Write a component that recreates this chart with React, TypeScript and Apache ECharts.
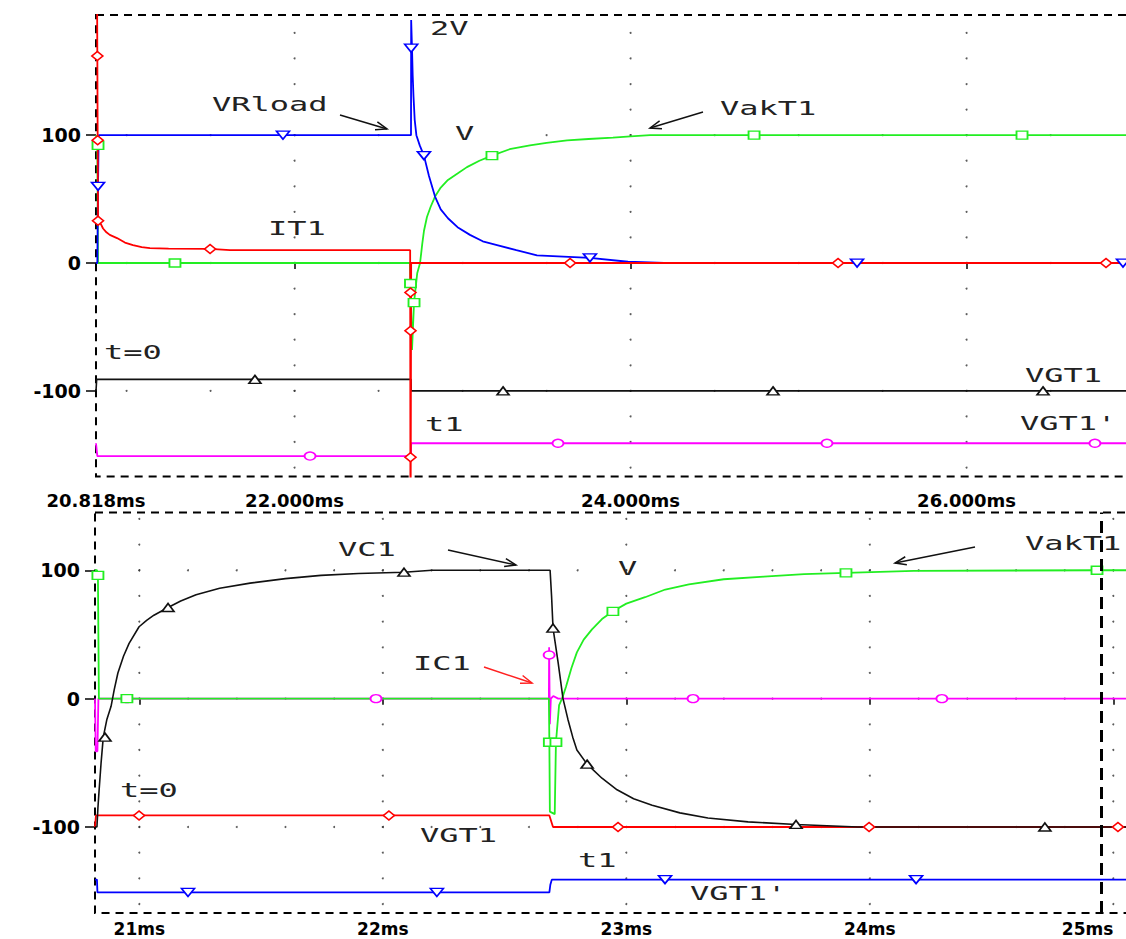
import React, { useEffect, useRef } from "react";
import * as echarts from "echarts";

// ---------- axis ranges / ticks ----------
const topXLabels = [20.818, 22, 24, 26];
const topXTicks = [22, 24, 26];
const botXLabels = [21, 22, 23, 24, 25];
const yLabels = [-100, 0, 100];

// ---------- TOP PANEL DATA (time ms, value) ----------
const topVRload = [
  [20.818, 0], [20.826, 0], [20.830, 60], [20.834, 100], [22.693, 100], [22.694, 190],
  [22.699, 168], [22.703, 147], [22.708, 130], [22.715, 112], [22.725, 100], [22.745, 92],
  [22.770, 84], [22.800, 68], [22.836, 52], [22.870, 42], [22.913, 35], [22.970, 28],
  [23.044, 22], [23.120, 17], [23.205, 14], [23.320, 10], [23.443, 6], [23.600, 5],
  [23.758, 4], [23.985, 1], [24.200, 0], [27, 0],
];
const topVRloadMarks = [[20.830, 60], [21.931, 100], [22.694, 168], [22.770, 84], [23.758, 4], [25.348, 0], [26.931, 0]];

const topIT1 = [
  [20.818, 400], [20.826, 162], [20.828, 96], [20.830, 37], [20.845, 31], [20.860, 27],
  [20.880, 24], [20.900, 22], [20.943, 19.5], [20.990, 16], [21.038, 14], [21.090, 12.5],
  [21.139, 11.7], [21.250, 11.2], [21.497, 11], [21.616, 10],
  [22.688, 10], [22.690, -250], [22.694, 0], [27, 0],
];
const topIT1Marks = [[20.826, 162], [20.828, 96], [20.830, 33], [21.497, 11], [22.690, -23], [22.690, -53], [22.690, -152], [23.640, 0], [25.235, 0], [26.830, 0]];

const topVakT1 = [
  [20.818, 100], [20.826, 92], [20.830, 0], [22.687, 0], [22.690, -16], [22.699, -68],
  [22.711, -31], [22.730, -8], [22.747, 0], [22.760, 15], [22.770, 25], [22.788, 36],
  [22.810, 44], [22.836, 52], [22.870, 59], [22.913, 65], [22.970, 70], [23.026, 75],
  [23.100, 80], [23.175, 84], [23.280, 89], [23.401, 92], [23.500, 94], [23.622, 96],
  [23.750, 97], [23.895, 98], [24.000, 99], [24.116, 100], [27, 100],
];
const topVakT1Marks = [[20.830, 92], [21.288, 0], [22.690, -16], [22.711, -31], [23.175, 84], [24.735, 100], [26.330, 100]];

const topVGT1 = [[20.818, -100], [20.822, -91], [22.693, -91], [22.694, -100], [27, -100]];
const topVGT1Marks = [[21.764, -91], [23.241, -100], [24.848, -100], [26.455, -100]];

const topVGT1p = [[20.818, -141], [20.822, -141], [20.826, -151], [22.693, -151], [22.694, -141], [27, -141]];
const topVGT1pMarks = [[22.092, -151], [23.568, -141], [25.169, -141], [26.764, -141]];

// ---------- BOTTOM PANEL DATA ----------
const botVC1 = [
  [20.818, -100], [20.826, -100], [20.830, -85], [20.835, -71], [20.843, -50], [20.852, -30],
  [20.867, -16], [20.884, -6], [20.897, 7], [20.912, 20], [20.935, 33], [20.958, 43],
  [20.999, 56], [21.030, 61], [21.060, 65], [21.118, 71], [21.170, 76], [21.233, 81],
  [21.330, 86], [21.455, 90], [21.600, 93.5], [21.746, 96], [21.900, 97.5], [22.087, 98.5],
  [22.202, 100], [22.687, 100], [22.693, 80], [22.699, 55], [22.720, 28], [22.740, 0],
  [22.760, -16], [22.780, -30], [22.797, -40], [22.839, -51], [22.900, -62], [22.962, -71],
  [23.030, -78], [23.106, -83], [23.220, -89], [23.335, -93], [23.500, -96], [23.697, -98],
  [23.951, -100], [25.2, -100],
];
const botVC1Marks = [[20.859, -30], [21.118, 71], [22.087, 98.5], [22.699, 55], [22.839, -51], [23.697, -98], [24.719, -100]];

const botVakT1 = [
  [20.818, 100], [20.826, 100], [20.830, 96], [20.834, 0], [22.682, 0], [22.684, -34],
  [22.686, -88], [22.706, -90], [22.711, -34], [22.724, -5], [22.736, 0], [22.752, 9],
  [22.775, 24], [22.797, 36], [22.825, 46], [22.859, 54], [22.900, 62], [22.945, 68],
  [23.000, 74], [23.077, 79], [23.160, 85], [23.257, 89], [23.400, 93], [23.565, 95],
  [23.730, 97], [23.902, 98], [24.181, 99.6], [24.933, 100], [25.2, 100],
];
const botVakT1Marks = [[20.830, 96], [20.949, 0], [22.684, -34], [22.711, -34], [22.945, 68], [23.902, 98], [24.933, 100]];

const botIC1 = [
  [20.818, 0], [20.821, -41], [20.828, -41], [20.832, 0], [22.682, 0], [22.683, 40],
  [22.686, -20], [22.690, 0], [22.700, 2], [22.720, 0], [25.2, 0],
];
const botIC1Marks = [[20.949, 0], [21.972, 0], [22.683, 34], [23.274, 0], [24.296, 0]];

const botVGT1 = [[20.818, -100], [20.822, -91], [22.684, -91], [22.699, -100], [25.2, -100]];
const botVGT1Marks = [[20.999, -91], [22.025, -91], [22.966, -100], [23.997, -100], [25.019, -100]];

const botVGT1p = [[20.818, -141], [20.826, -141], [20.828, -151], [22.684, -151], [22.688, -145], [22.694, -141], [25.2, -141]];
const botVGT1pMarks = [[21.200, -151], [22.222, -151], [23.159, -141], [24.190, -141]];

const cursorT = 24.945;

// ---------- colours ----------
const BLUE = "#0000ff";
const RED = "#ff0000";
const GREEN = "#22ee22";
const BLACK = "#111111";
const MAGENTA = "#ff00ff";

function lineS(name: string, data: number[][], color: string, gi: number, width = 1.8) {
  return {
    name, type: "line", xAxisIndex: gi, yAxisIndex: gi, data,
    showSymbol: false, symbol: "none", clip: true, z: 3,
    lineStyle: { color, width }, itemStyle: { color }, silent: true,
  };
}
function markS(name: string, data: number[][], color: string, gi: number, symbol: string, rotate = 0, size: number[] = [11, 8]) {
  return {
    name: name + "_m", type: "scatter", xAxisIndex: gi, yAxisIndex: gi, data,
    symbol, symbolRotate: rotate, symbolSize: size, clip: true, z: 4, silent: true,
    itemStyle: { color: "#ffffff", borderColor: color, borderWidth: 1.6, opacity: 1 },
  };
}

function gridDots(xs: number[], xmin: number, xmax: number, xstep: number, ys: number[], ymin: number, ymax: number, ystep: number) {
  const pts: number[][] = [];
  for (const x of xs) {
    for (let y = Math.ceil(ymin / ystep) * ystep; y <= ymax; y += ystep) pts.push([x, y]);
  }
  for (const y of ys) {
    for (let x = Math.ceil((xmin + 1e-9) / xstep) * xstep; x <= xmax; x += xstep) pts.push([+x.toFixed(3), y]);
  }
  return pts;
}

function arrow(x1: number, y1: number, x2: number, y2: number, color: string) {
  const a = Math.atan2(y2 - y1, x2 - x1);
  const L = 12, w = 0.35;
  const p1 = [x2 - L * Math.cos(a - w), y2 - L * Math.sin(a - w)];
  const p2 = [x2 - L * Math.cos(a + w), y2 - L * Math.sin(a + w)];
  return [
    { type: "line", shape: { x1, y1, x2, y2 }, style: { stroke: color, lineWidth: 1.5 }, silent: true },
    { type: "polyline", shape: { points: [p1, [x2, y2], p2] }, style: { stroke: color, fill: null, lineWidth: 1.5 }, silent: true },
  ];
}
function label(text: string, x: number, y: number, color = "#222") {
  return {
    type: "text", x, y, scaleX: 1.6, silent: true,
    style: { text, fill: color, font: '20px "DejaVu Sans Mono"', align: "left", verticalAlign: "middle" },
  };
}

export default function App() {
  const ref = useRef<HTMLDivElement>(null);
  useEffect(() => {
    if (!ref.current) return;
    const chart = echarts.init(ref.current, null, { renderer: "svg" });
    const axisLabelFont = { fontFamily: "DejaVu Sans", fontWeight: "bold", color: "#000" };
    const gridCommon = {
      show: true, borderColor: "#000", borderWidth: 2, borderType: [8, 6],
      backgroundColor: "transparent", outerBoundsMode: "none", containLabel: false,
    };
    const W = 1180;
    const topLeft = 96, topPx = 168;
    const topMax = 27;
    const botLeft = 95, botPx = 243.5;
    const botMax = 25.2;
    const option: any = {
      animation: false,
      backgroundColor: "#ffffff",
      grid: [
        { ...gridCommon, left: topLeft, top: 15, height: 461.5, right: W - (topLeft + (topMax - 20.818) * topPx) },
        { ...gridCommon, left: botLeft, top: 512.5, height: 400.5, right: W - (botLeft + (botMax - 20.818) * botPx) },
      ],
      xAxis: [
        {
          type: "value", gridIndex: 0, min: 20.818, max: topMax,
          axisLine: { show: false }, splitLine: { show: false },
          axisTick: { show: true, customValues: topXTicks, length: 6, lineStyle: { color: "#000", width: 1.5 } },
          axisLabel: { ...axisLabelFont, fontSize: 18, customValues: topXLabels, margin: 15, formatter: (v: number) => v.toFixed(3) + "ms" },
        },
        {
          type: "value", gridIndex: 1, min: 20.818, max: botMax,
          axisLine: { show: false }, splitLine: { show: false },
          axisTick: { show: true, customValues: botXLabels, length: 6, lineStyle: { color: "#000", width: 1.5 } },
          axisLabel: {
            ...axisLabelFont, fontSize: 17, customValues: botXLabels, margin: 7, alignMaxLabel: "right",
            formatter: (v: number) => Math.round(v) + "ms",
          },
        },
      ],
      yAxis: [
        {
          type: "value", gridIndex: 0, min: -167, max: 194,
          axisLine: { show: false }, splitLine: { show: false },
          axisTick: { show: true, customValues: yLabels, length: 10, lineStyle: { color: "#000", width: 1.5 } },
          axisLabel: { ...axisLabelFont, fontSize: 19, customValues: yLabels, margin: 15, formatter: (v: number) => String(v) },
        },
        {
          type: "value", gridIndex: 1, min: -167, max: 145,
          axisLine: { show: false }, splitLine: { show: false },
          axisTick: { show: true, customValues: yLabels, length: 10, lineStyle: { color: "#000", width: 1.5 } },
          axisLabel: { ...axisLabelFont, fontSize: 19, customValues: yLabels, margin: 15, formatter: (v: number) => String(v) },
        },
      ],
      series: [
        {
          type: "scatter", xAxisIndex: 0, yAxisIndex: 0, silent: true, z: 1, symbolSize: 2,
          itemStyle: { color: "#333" },
          data: gridDots([22, 24, 26], 20.818, topMax, 0.5, [100, 0, -100], -167, 194, 20),
        },
        {
          type: "scatter", xAxisIndex: 1, yAxisIndex: 1, silent: true, z: 1, symbolSize: 2,
          itemStyle: { color: "#333" },
          data: gridDots([21, 22, 23, 24, 25], 20.818, botMax, 0.2, [100, 0, -100], -167, 145, 20),
        },
        // top
        lineS("VGT1", topVGT1, BLACK, 0, 1.6),
        lineS("VGT1'", topVGT1p, MAGENTA, 0),
        lineS("VakT1", topVakT1, GREEN, 0),
        lineS("VRload", topVRload, BLUE, 0),
        lineS("IT1", topIT1, RED, 0),
        markS("VGT1", topVGT1Marks, BLACK, 0, "triangle", 0, [12, 8]),
        markS("VGT1'", topVGT1pMarks, MAGENTA, 0, "circle", 0, [11, 8]),
        markS("VakT1", topVakT1Marks, GREEN, 0, "rect", 0, [11, 8]),
        markS("VRload", topVRloadMarks, BLUE, 0, "triangle", 180, [13, 8]),
        markS("IT1", topIT1Marks, RED, 0, "diamond", 0, [11, 9]),
        // bottom
        lineS("VGT1 ", botVGT1, RED, 1),
        lineS("VGT1' ", botVGT1p, BLUE, 1),
        {
          ...lineS("IC1", botIC1, MAGENTA, 1),
          markLine: {
            silent: true, symbol: "none", label: { show: false },
            lineStyle: { color: "#000", type: [12, 7], width: 3 },
            data: [{ xAxis: cursorT }],
          },
        },
        lineS("VakT1 ", botVakT1, GREEN, 1),
        lineS("VC1", botVC1, BLACK, 1, 1.6),
        markS("VGT1 ", botVGT1Marks, RED, 1, "diamond", 0, [11, 9]),
        markS("VGT1' ", botVGT1pMarks, BLUE, 1, "triangle", 180, [13, 8]),
        markS("IC1", botIC1Marks, MAGENTA, 1, "circle", 0, [11, 8]),
        markS("VakT1 ", botVakT1Marks, GREEN, 1, "rect", 0, [11, 8]),
        markS("VC1", botVC1Marks, BLACK, 1, "triangle", 0, [12, 8]),
      ],
      graphic: [
        label("2V", 430, 28),
        label("VRload", 212, 104),
        label("V", 455, 133),
        label("VakT1", 720, 108),
        label("IT1", 268, 228),
        label("t=0", 104, 352),
        label("t1", 425, 424),
        label("VGT1", 1025, 375),
        label("VGT1'", 1020, 423),
        label("VC1", 338, 549),
        label("VakT1", 1025, 543),
        label("V", 618, 568),
        label("IC1", 413, 663),
        label("t=0", 120, 790),
        label("VGT1", 420, 835),
        label("t1", 578, 860),
        label("VGT1'", 690, 893),
        ...arrow(340, 115, 387, 129, "#111"),
        ...arrow(703, 112, 650, 128, "#111"),
        ...arrow(448, 550, 516, 565, "#111"),
        ...arrow(975, 547, 895, 563, "#111"),
        ...arrow(484, 667, 532, 683, "#ff2020"),
      ],
    };
    chart.setOption(option);
    return () => chart.dispose();
  }, []);
  return (
    <div style={{ position: "fixed", left: 0, top: 0, width: 1126, height: 939, overflow: "hidden", background: "#fff" }}>
      <div ref={ref} style={{ width: 1180, height: 939 }} />
    </div>
  );
}
